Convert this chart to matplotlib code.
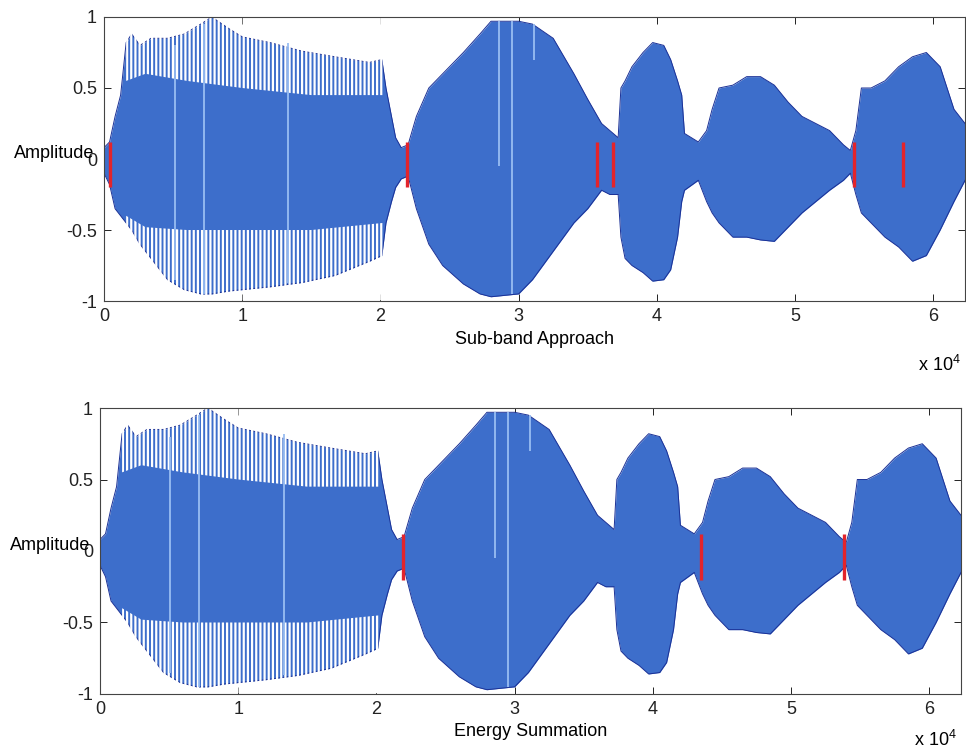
import numpy as np
import matplotlib
matplotlib.use('Agg')
import matplotlib.pyplot as plt

plt.rcParams['font.family'] = 'Liberation Sans'
plt.rcParams['mathtext.fontset'] = 'custom'
plt.rcParams['mathtext.rm'] = 'Liberation Sans'
plt.rcParams['hatch.linewidth'] = 1.6

# envelope of the waveform (sample index, amplitude)
env_x = [0, 400, 800, 1200, 1600, 2000, 2600, 3400, 4600, 5800, 7000, 7800,
         9000, 10000, 12000, 14300, 16700, 19200, 20100, 20400, 20800, 21100,
         21500, 22000, 22600, 23500, 24500, 26000, 27200, 28000, 30000, 31000,
         32500, 34000, 35000, 36000, 36600, 37200, 37400, 37700, 38200, 39000,
         39700, 40500, 41000, 41500, 41800, 42000, 43000, 43600, 44000, 44500,
         45500, 46500, 47500, 48500, 49500, 50500, 51500, 52500, 53500, 54000,
         54400, 54800, 55500, 56500, 57500, 58500, 59500, 60500, 61500, 62300]
env_up = [0.08, 0.12, 0.30, 0.45, 0.82, 0.88, 0.80, 0.85, 0.85, 0.88, 0.95, 1.00,
          0.92, 0.86, 0.82, 0.76, 0.72, 0.68, 0.70, 0.50, 0.30, 0.15,
          0.08, 0.10, 0.30, 0.50, 0.60, 0.75, 0.88, 0.97, 0.97, 0.95,
          0.85, 0.60, 0.42, 0.25, 0.20, 0.15, 0.50, 0.55, 0.65, 0.75,
          0.82, 0.80, 0.70, 0.55, 0.45, 0.18, 0.12, 0.20, 0.35, 0.50,
          0.52, 0.58, 0.58, 0.52, 0.40, 0.30, 0.25, 0.20, 0.10, 0.06,
          0.20, 0.50, 0.50, 0.55, 0.65, 0.72, 0.75, 0.65, 0.35, 0.25]
env_lo = [-0.10, -0.18, -0.35, -0.40, -0.45, -0.50, -0.60, -0.70, -0.85, -0.92, -0.95, -0.95,
          -0.93, -0.92, -0.90, -0.87, -0.82, -0.72, -0.68, -0.45, -0.30, -0.20,
          -0.14, -0.12, -0.35, -0.60, -0.75, -0.88, -0.95, -0.97, -0.95, -0.85,
          -0.65, -0.45, -0.35, -0.22, -0.25, -0.25, -0.55, -0.70, -0.75, -0.80,
          -0.86, -0.85, -0.78, -0.55, -0.30, -0.22, -0.15, -0.30, -0.38, -0.45,
          -0.55, -0.55, -0.57, -0.58, -0.48, -0.38, -0.30, -0.22, -0.15, -0.10,
          -0.25, -0.38, -0.45, -0.55, -0.62, -0.72, -0.68, -0.50, -0.30, -0.15]

# solid body of the first (spiky) segment
body_x = [1600, 3000, 6000, 10000, 15000, 20200]
body_up = [0.55, 0.60, 0.55, 0.50, 0.45, 0.45]
body_lo = [-0.40, -0.48, -0.50, -0.50, -0.50, -0.45]

# pale single-sample lines
pale_x = [5100, 7200, 13300, 28600, 29500, 31100]
pale_top = [0.80, 0.95, 0.82, 0.97, 0.97, 0.95]
pale_bot = [-0.85, -0.95, -0.87, -0.05, -0.95, 0.70]

# detected boundaries
red_top = [450, 21900, 35700, 36800, 54300, 57800]
red_bottom = [21900, 43500, 53800]

titles = ['Sub-band Approach', 'Energy Summation']
xtick_vals = [0, 10000, 20000, 30000, 40000, 50000, 60000]
xtick_labels = ['0', '1', '2', '3', '4', '5', '6']
ytick_vals = [-1, -0.5, 0, 0.5, 1]
ytick_labels = ['-1', '-0.5', '0', '0.5', '1']

blue = '#3d6ecb'
dark = '#1b3196'
pale = '#98bdf2'
red = '#e3242b'

fig = plt.figure(figsize=(9.66, 7.55), dpi=100)
ax1 = fig.add_axes([0.1077, 0.6013, 0.8913, 0.3762])
ax2 = fig.add_axes([0.1035, 0.0808, 0.8913, 0.3788])

for ax, title, reds, lab_y, off_y in [(ax1, titles[0], red_top, -0.135, -0.225),
                                      (ax2, titles[1], red_bottom, -0.13, -0.16)]:
    ax.fill_between(env_x, env_lo, env_up, color=blue, lw=0, zorder=2)
    ax.plot(env_x, env_up, color=dark, lw=0.7, zorder=2)
    ax.plot(env_x, env_lo, color=dark, lw=0.7, zorder=2)
    # gaps between the spikes of the first segment
    ax.fill_between(body_x, body_up, [0.995] * len(body_x), facecolor='none',
                    edgecolor='white', hatch='||||', lw=0, zorder=3)
    ax.fill_between(body_x, [-0.995] * len(body_x), body_lo, facecolor='none',
                    edgecolor='white', hatch='||||', lw=0, zorder=3)
    ax.vlines(pale_x, pale_bot, pale_top, color=pale, lw=1.3, zorder=4)
    ax.vlines(reds, -0.2, 0.12, color=red, lw=2.4, zorder=5)

    ax.set_xlim(0, 62300)
    ax.set_ylim(-1, 1)
    ax.set_xticks(xtick_vals)
    ax.set_xticklabels(xtick_labels)
    ax.set_yticks(ytick_vals)
    ax.set_yticklabels(ytick_labels)
    ax.tick_params(direction='in', length=5, width=0.7, top=True, right=True,
                   labelsize=13, pad=5, colors='#222222')
    for s in ax.spines.values():
        s.set_linewidth(0.8)
        s.set_color('#444444')
        s.set_zorder(10)
    ax.set_ylabel('Amplitude', rotation=0, fontsize=13, ha='center', va='center')
    ax.yaxis.set_label_coords(-0.058, 0.52)
    ax.text(0.5, lab_y, title, transform=ax.transAxes, ha='center', va='center',
            fontsize=13)
    ax.text(0.995, off_y, r'x 10$^{4}$', transform=ax.transAxes, ha='right',
            va='center', fontsize=13)

fig.savefig('out.png', dpi=100)
